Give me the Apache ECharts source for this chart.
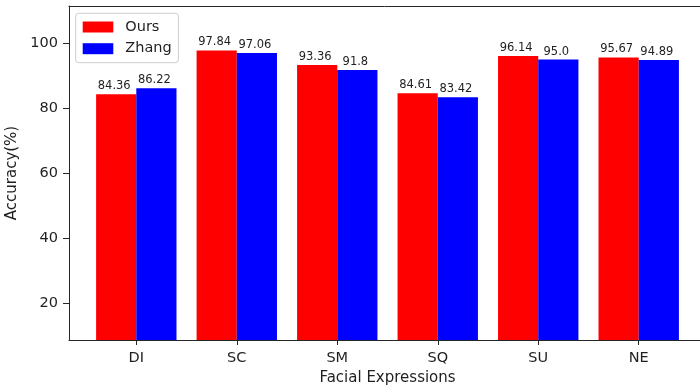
<!DOCTYPE html>
<html>
<head>
<meta charset="utf-8">
<script src="https://cdn.jsdelivr.net/npm/echarts@6/dist/echarts.min.js"></script>
<style>
  html, body { margin: 0; padding: 0; background: #fff; }
  #chart { width: 700px; height: 388px; }
</style>
</head>
<body>
<div id="chart"></div>
<script>
// Per-expression recognition accuracy
const categories = ['DI', 'SC', 'SM', 'SQ', 'SU', 'NE'];
const oursValues = [84.36, 97.84, 93.36, 84.61, 96.14, 95.67];
const zhangValues = [86.22, 97.06, 91.8, 83.42, 95.0, 94.89];
const yTickValues = [20, 40, 60, 80, 100];

const FONT = 'DejaVu Sans';
const INK = '#1f1f1f';
const SPINE = '#262626';

// Python-style number text: 95.0 stays "95.0"
const fmt = v => Number.isInteger(v) ? v.toFixed(1) : String(v);

const chart = echarts.init(document.getElementById('chart'), null, { renderer: 'canvas' });

const barLabel = {
  show: true,
  position: 'top',
  distance: 2,
  offset: [-2, 0],
  fontFamily: FONT,
  fontSize: 11.5,
  color: INK,
  formatter: p => fmt(p.value)
};

// Axis that only draws a spine line
const spine = (extra) => Object.assign({
  gridIndex: 0, type: 'value', min: 0, max: 1,
  axisLine: { show: true, onZero: false, lineStyle: { color: SPINE, width: 1 } },
  axisTick: { show: false }, axisLabel: { show: false }, splitLine: { show: false }
}, extra);

chart.setOption({
  animation: false,
  backgroundColor: '#fff',
  textStyle: { fontFamily: FONT },
  grid: [
    // spines: the plot extends past the right canvas edge
    { left: 69, top: 6, right: 0, height: 334, outerBoundsMode: 'none' },
    // plotting area for the bars
    { left: 86.06, top: 6, width: 602.9, height: 334, outerBoundsMode: 'none' }
  ],
  legend: {
    orient: 'vertical',
    left: 75.7,
    top: 13.3,
    padding: [5.7, 6.7, 6, 7],
    itemWidth: 30.6,
    itemHeight: 11,
    itemGap: 5.7,
    backgroundColor: 'rgba(255,255,255,0.8)',
    borderColor: '#cccccc',
    borderWidth: 1,
    borderRadius: 3,
    icon: 'rect',
    textStyle: { fontFamily: FONT, fontSize: 14.5, color: INK, lineHeight: 16, padding: [0, 0, 0, 7] },
    data: ['Ours', 'Zhang']
  },
  xAxis: [
    spine({ position: 'bottom' }),
    spine({ position: 'top' }),
    {
      gridIndex: 1,
      type: 'category',
      data: categories,
      name: 'Facial Expressions',
      nameLocation: 'middle',
      nameGap: 29,
      nameTextStyle: { fontFamily: FONT, fontSize: 15, color: INK },
      axisLine: { show: true, lineStyle: { color: SPINE, width: 1 } },
      axisTick: { show: true, alignWithLabel: true, length: 5, lineStyle: { color: SPINE } },
      axisLabel: { margin: 11, fontFamily: FONT, fontSize: 14.5, color: INK },
      splitLine: { show: false }
    }
  ],
  yAxis: [
    spine({ position: 'left' }),
    {
      gridIndex: 1,
      type: 'value',
      min: 8.7,
      max: 111.5,
      offset: 17.06,
      name: 'Accuracy(%)',
      nameLocation: 'middle',
      nameGap: 46,
      nameTextStyle: { fontFamily: FONT, fontSize: 15, color: INK },
      axisLine: { show: false },
      axisTick: { show: true, length: 6, customValues: yTickValues, lineStyle: { color: SPINE } },
      axisLabel: { margin: 11, fontFamily: FONT, fontSize: 14.5, color: INK, customValues: yTickValues },
      splitLine: { show: false }
    }
  ],
  series: [
    {
      name: 'Ours',
      type: 'bar',
      xAxisIndex: 2,
      yAxisIndex: 1,
      data: oursValues,
      barGap: '0%',
      barCategoryGap: '20%',
      itemStyle: { color: '#ff0000' },
      label: barLabel
    },
    {
      name: 'Zhang',
      type: 'bar',
      xAxisIndex: 2,
      yAxisIndex: 1,
      data: zhangValues,
      barGap: '0%',
      barCategoryGap: '20%',
      itemStyle: { color: '#0000ff' },
      label: barLabel
    }
  ]
});
</script>
</body>
</html>
